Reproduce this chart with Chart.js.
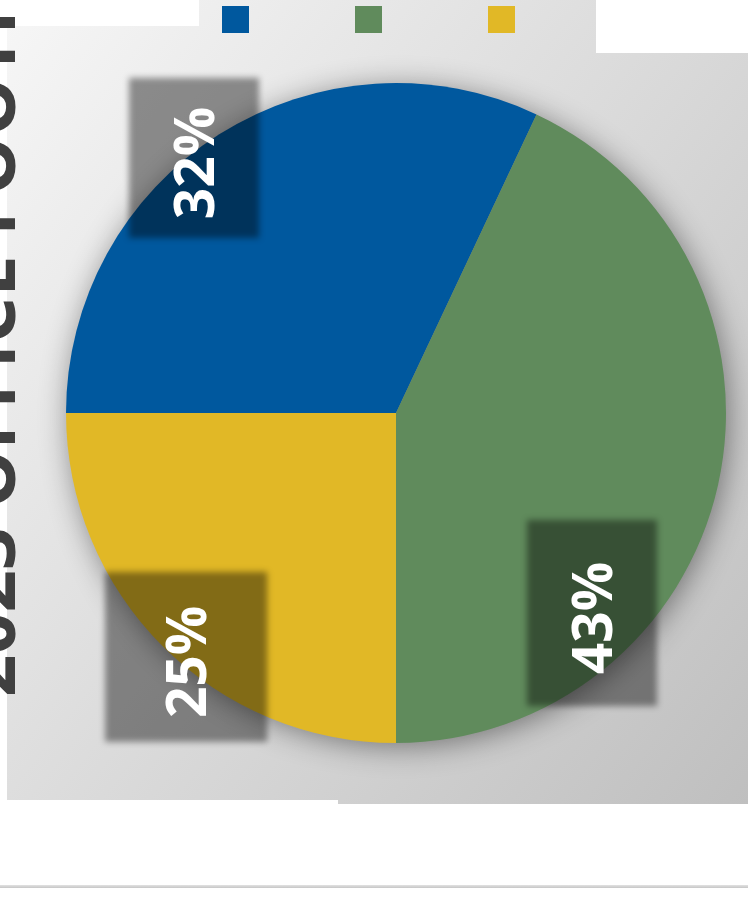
<!DOCTYPE html>
<html>
<head>
<meta charset="utf-8">
<script src="https://cdn.jsdelivr.net/npm/chart.js@4.4.1/dist/chart.umd.min.js"></script>
<style>
  html, body { margin: 0; padding: 0; background: #fff; }
  body { width: 748px; height: 902px; position: relative; overflow: hidden; }
  .panel { position: absolute; background: linear-gradient(127deg, #f7f7f7, #bcbcbc) fixed; }
  #panelMain { left: 7px; top: 26px; width: 589px; height: 774px; }
  #panelLow { left: 338px; top: 53px; width: 410px; height: 751px; }
  #panelLegend { left: 199px; top: 0; width: 397px; height: 53px; }
  #legend { display: flex; gap: 106px; padding: 6px 0 0 23px; }
  #legend span { display: block; width: 27px; height: 27px; }
  #rule { position: absolute; left: 0; top: 885px; width: 748px; height: 3px; background: linear-gradient(#e2e2e2, #c6c6c6); }
  #chart { position: absolute; left: 0; top: 0; }
</style>
</head>
<body>
<div class="panel" id="panelMain"></div>
<div class="panel" id="panelLow"></div>
<div class="panel" id="panelLegend"><div id="legend"></div></div>
<div id="rule"></div>
<canvas id="chart" width="748" height="902"></canvas>
<script>
// legend shows colour swatches only
const categories = ['', '', ''];
const shares = [32, 43, 25];
const sliceColors = ['#00589e', '#608b5c', '#e1b826'];
const titleText = '2023 OFFICE FOOTPRINT';

// dark tag behind each percentage: centre offset and size, as fractions of the pie radius
const tagLayout = [
  { dx: -0.612, dy: -0.773, w: 0.394, h: 0.485 },
  { dx: 0.594, dy: 0.606, w: 0.394, h: 0.564 },
  { dx: -0.636, dy: 0.739, w: 0.491, h: 0.515 }
];

// soft drop shadow under the whole pie
const pieShadow = {
  id: 'pieShadow',
  beforeDatasetsDraw(chart) {
    const arc = chart.getDatasetMeta(0).data[0];
    if (!arc) return;
    const ctx = chart.ctx;
    ctx.save();
    ctx.shadowColor = 'rgba(0,0,0,0.45)';
    ctx.shadowBlur = 30;
    ctx.shadowOffsetX = 3;
    ctx.shadowOffsetY = 4;
    ctx.beginPath();
    ctx.arc(arc.x, arc.y, arc.outerRadius - 1, 0, Math.PI * 2);
    ctx.fillStyle = '#888';
    ctx.fill();
    ctx.restore();
  }
};

// rotated percentage tags
const sliceTags = {
  id: 'sliceTags',
  afterDatasetsDraw(chart) {
    const ctx = chart.ctx;
    const values = chart.data.datasets[0].data;
    chart.getDatasetMeta(0).data.forEach((arc, i) => {
      const r = arc.outerRadius;
      const t = tagLayout[i];
      const cx = arc.x + t.dx * r;
      const cy = arc.y + t.dy * r;
      const w = t.w * r;
      const h = t.h * r;

      ctx.save();
      ctx.filter = 'blur(3px)';
      ctx.fillStyle = 'rgba(0,0,0,0.42)';
      ctx.fillRect(cx - w / 2, cy - h / 2, w, h);
      ctx.restore();

      ctx.save();
      ctx.translate(cx + 19.5, cy + 5);
      ctx.rotate(-Math.PI / 2);
      ctx.font = 'bold 55px "Open Sans"';
      ctx.fillStyle = '#fff';
      ctx.textAlign = 'center';
      ctx.textBaseline = 'alphabetic';
      ctx.fillText(values[i] + '%', 0, 0);
      ctx.restore();
    });
  }
};

// big title running up the left edge
const sideTitle = {
  id: 'sideTitle',
  afterDraw(chart) {
    const ctx = chart.ctx;
    ctx.save();
    ctx.translate(15, 697);
    ctx.rotate(-Math.PI / 2);
    ctx.font = 'bold 74px "Open Sans"';
    ctx.fillStyle = '#404040';
    ctx.textAlign = 'left';
    ctx.textBaseline = 'alphabetic';
    ctx.fillText(titleText, 0, 0);
    ctx.restore();
  }
};

// swatch legend built in the DOM
const htmlLegend = {
  id: 'htmlLegend',
  afterUpdate(chart) {
    const box = document.getElementById('legend');
    box.innerHTML = '';
    chart.options.plugins.legend.labels.generateLabels(chart).forEach(item => {
      const swatch = document.createElement('span');
      swatch.style.background = item.fillStyle;
      box.appendChild(swatch);
    });
  }
};

new Chart(document.getElementById('chart'), {
  type: 'pie',
  data: {
    labels: categories,
    datasets: [{
      data: shares,
      backgroundColor: sliceColors,
      borderWidth: 0
    }]
  },
  options: {
    responsive: false,
    animation: false,
    rotation: -90,
    layout: { padding: { left: 66, right: 22, top: 83, bottom: 159 } },
    plugins: {
      legend: { display: false },
      tooltip: { enabled: false }
    }
  },
  plugins: [pieShadow, sliceTags, sideTitle, htmlLegend]
});
</script>
</body>
</html>
